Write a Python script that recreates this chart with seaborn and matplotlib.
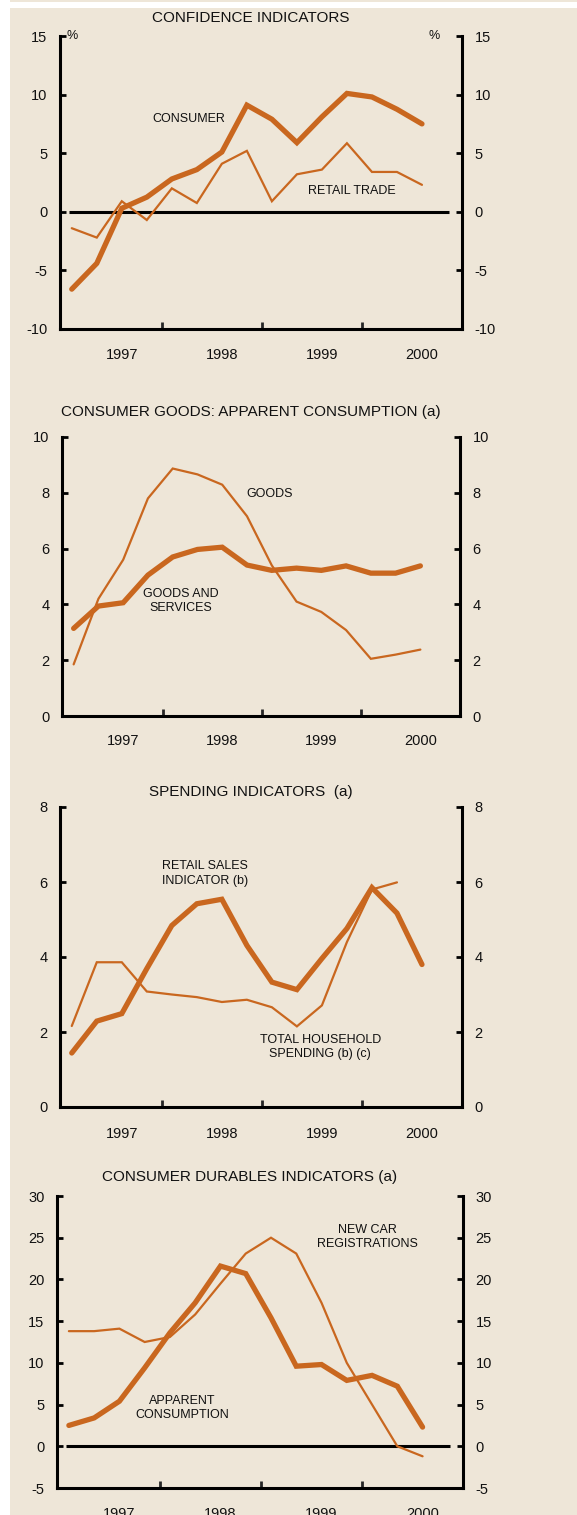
import numpy as np
import pandas as pd
import matplotlib
matplotlib.use("Agg")
import matplotlib.pyplot as plt
import seaborn as sns
from matplotlib.patches import Rectangle

sns.set_theme(style="ticks")
plt.rcParams['font.family'] = ['Liberation Sans', 'DejaVu Sans']
plt.rcParams['axes.unicode_minus'] = False
plt.rcParams['text.color'] = '#111111'

# quarters, Sep-1996 .. Mar-2000
quarters = list(range(15))
year_labels = ["1997", "1998", "1999", "2000"]
year_label_pos = [2, 6, 10, 14]
year_tick_pos = [3.6, 7.6, 11.6]

# confidence indicators
consumer = [-6.6, -4.4, 0.3, 1.25, 2.8, 3.6, 5.1, 9.1, 7.9, 5.9, 8.1, 10.1, 9.8, 8.75, 7.5]
retail_trade = [-1.4, -2.2, 0.9, -0.7, 2.0, 0.75, 4.1, 5.2, 0.9, 3.2, 3.6, 5.85, 3.4, 3.4, 2.3]

# consumer goods: apparent consumption
goods = [1.85, 4.2, 5.6, 7.8, 8.87, 8.66, 8.29, 7.16, 5.4, 4.1, 3.73, 3.08, 2.05, 2.2, 2.38]
goods_services = [3.14, 3.94, 4.06, 5.05, 5.7, 5.97, 6.05, 5.41, 5.22, 5.3, 5.22, 5.38, 5.12, 5.12, 5.38]

# spending indicators
retail_sales = [1.44, 2.29, 2.49, 3.69, 4.84, 5.42, 5.54, 4.31, 3.33, 3.13, 3.96, 4.76, 5.85, 5.17, 3.8]
household_spending = [2.16, 3.86, 3.86, 3.08, 3.0, 2.93, 2.8, 2.86, 2.66, 2.15, 2.71, 4.4, 5.8, 5.99]

# consumer durables indicators
apparent_cons = [2.5, 3.4, 5.4, 9.4, 13.6, 17.2, 21.6, 20.7, 15.4, 9.6, 9.8, 7.9, 8.5, 7.2, 2.3]
new_car_reg = [13.8, 13.8, 14.1, 12.5, 13.1, 15.8, 19.5, 23.1, 25.0, 23.1, 17.2, 10.0, 5.0, 0.0, -1.2]

ORANGE = "#C9671F"
BG = "#EEE6D8"
W, H = 577, 1515

fig = plt.figure(figsize=(W / 100, H / 100), dpi=100)
fig.patch.set_facecolor("white")
fig.patches.append(Rectangle((10 / W, 0), 1 - 10 / W, (H - 8) / H, transform=fig.transFigure,
                             facecolor=BG, edgecolor="none", zorder=-10))
fig.patches.append(Rectangle((10 / W, (H - 2) / H), 1 - 10 / W, 2 / H, transform=fig.transFigure,
                             facecolor=BG, edgecolor="none", zorder=-10))


def make_panel(left, right, top, bottom, title, title_y, ylim, yticks, zero_line=False, pct=False):
    ax = fig.add_axes([left / W, 1 - bottom / H, (right - left) / W, (bottom - top) / H])
    ax.set_facecolor("none")
    ax.set_xlim(-0.47, 15.6)
    ax.set_ylim(*ylim)
    for s in ["left", "right", "bottom"]:
        ax.spines[s].set_linewidth(2.2)
        ax.spines[s].set_color("black")
    ax.spines["top"].set_visible(False)
    ax.set_yticks(yticks)
    ax.tick_params(axis="y", direction="in", length=4, width=2, labelsize=10.5, pad=9,
                   left=True, right=True, labelleft=True, labelright=True, colors="black",
                   labelcolor="#111111")
    ax.set_xticks(year_tick_pos)
    ax.set_xticklabels([])
    ax.tick_params(axis="x", direction="in", length=5, width=2)
    for lab, pos in zip(year_labels, year_label_pos):
        ax.text(pos, -0.09, lab, transform=ax.get_xaxis_transform(), ha="center", va="center",
                fontsize=10.5)
    if zero_line:
        ax.hlines(0, -0.1, 15.1, color="black", lw=2.2, zorder=1)
    if pct:
        ax.text(0.03, 1.0, "%", transform=ax.transAxes, ha="center", va="center", fontsize=9)
        ax.text(0.93, 1.0, "%", transform=ax.transAxes, ha="center", va="center", fontsize=9)
    fig.text(((left + right) / 2 - 10) / W, 1 - title_y / H, title, ha="center", va="center",
             fontsize=11)
    ax.set_xlabel("")
    ax.set_ylabel("")
    return ax


def draw(ax, values, lw):
    df = pd.DataFrame({"q": quarters[:len(values)], "v": values})
    sns.lineplot(data=df, x="q", y="v", ax=ax, color=ORANGE, lw=lw, zorder=3,
                 solid_joinstyle="miter")
    ax.set_xlabel("")
    ax.set_ylabel("")


# panel 1
ax1 = make_panel(60, 462, 36, 329, "CONFIDENCE INDICATORS", 18, (-10, 15), range(-10, 16, 5),
                 zero_line=True, pct=True)
draw(ax1, retail_trade, 1.6)
draw(ax1, consumer, 3.8)
ax1.text(4.67, 7.9, "CONSUMER", ha="center", va="center", fontsize=9)
ax1.text(11.2, 1.8, "RETAIL TRADE", ha="center", va="center", fontsize=9)

# panel 2
ax2 = make_panel(62, 460, 437, 716, "CONSUMER GOODS: APPARENT CONSUMPTION (a)", 412, (0, 10),
                 range(0, 11, 2))
draw(ax2, goods, 1.6)
draw(ax2, goods_services, 3.8)
ax2.text(7.9, 7.95, "GOODS", ha="center", va="center", fontsize=9)
ax2.text(4.33, 4.12, "GOODS AND\nSERVICES", ha="center", va="center", fontsize=9,
         linespacing=1.3)

# panel 3
ax3 = make_panel(60, 462, 807, 1107, "SPENDING INDICATORS  (a)", 792, (0, 8), range(0, 9, 2))
draw(ax3, household_spending, 1.6)
draw(ax3, retail_sales, 3.8)
ax3.text(5.33, 6.22, "RETAIL SALES\nINDICATOR (b)", ha="center", va="center", fontsize=9,
         linespacing=1.3)
ax3.text(9.93, 1.6, "TOTAL HOUSEHOLD\nSPENDING (b) (c)", ha="center", va="center", fontsize=9,
         linespacing=1.3)

# panel 4
ax4 = make_panel(57, 463, 1196, 1488, "CONSUMER DURABLES INDICATORS (a)", 1177, (-5, 30),
                 range(-5, 31, 5), zero_line=True)
draw(ax4, new_car_reg, 1.6)
draw(ax4, apparent_cons, 3.8)
ax4.text(11.8, 25.1, "NEW CAR\nREGISTRATIONS", ha="center", va="center", fontsize=9,
         linespacing=1.3)
ax4.text(4.5, 4.6, "APPARENT\nCONSUMPTION", ha="center", va="center", fontsize=9,
         linespacing=1.3)

fig.savefig("out.png", dpi=100)
